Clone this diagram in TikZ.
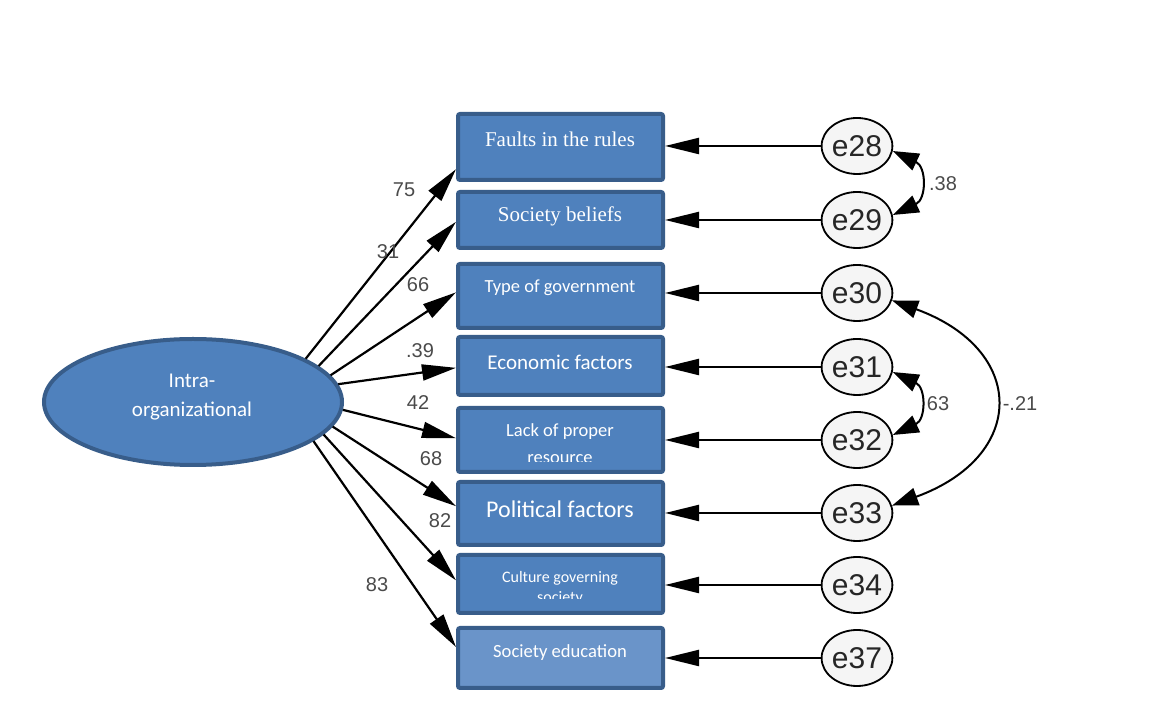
\documentclass[tikz,border=0pt]{standalone}
\usepackage{fontspec}
\setmainfont{Liberation Serif}
\newfontfamily\calibri{Carlito}
\newfontfamily\arialf{Liberation Sans}
\usetikzlibrary{arrows.meta,shapes.geometric}
\definecolor{boxfill}{HTML}{4F81BD}
\definecolor{boxline}{HTML}{385D8A}
\definecolor{boxlight}{HTML}{6A94C9}
\definecolor{lblcol}{HTML}{4A4A4A}
\begin{document}
\begin{tikzpicture}[x=1pt,y=1pt,
  box/.style={rectangle,draw=boxline,fill=boxfill,line width=4pt,rounded corners=2pt,
    minimum width=205pt,inner sep=0pt},
  lvar/.style={ellipse,draw=boxline,fill=boxfill,line width=4pt,minimum width=298pt,
    minimum height=126pt,inner sep=0pt},
  errv/.style={ellipse,draw=black,fill=black!4,line width=1.8pt,minimum width=63pt,
    minimum height=56pt,inner sep=0pt,text=black!85,font=\arialf\fontsize{30}{30}\selectfont},
  serif/.style={text=white,inner sep=0pt,font=\fontsize{21}{25}\selectfont},
  cal/.style={text=white,inner sep=0pt,font=\calibri\fontsize{#1}{#1}\selectfont},
  lbl/.style={text=lblcol,inner sep=0pt,font=\arialf\fontsize{20}{22}\selectfont},
  path/.style={draw=black,line width=2.2pt,-{Triangle[length=34pt,width=16pt]}},
  cov/.style={draw=black,line width=2pt,{Triangle[length=26pt,width=18pt]}-{Triangle[length=26pt,width=18pt]}}
]
\useasboundingbox (0,0) rectangle (1159,728);

% latent variable
\node[lvar] (E) at (193,326) {};
\node[cal=21,align=center] (Et) at (192,330.5) {Intra-\\[8pt]organizational};

% indicator boxes
\node[box,minimum height=66pt] (b1) at (560.5,581) {};
\node[box,minimum height=56pt] (b2) at (560.5,508) {};
\node[box,minimum height=64pt] (b3) at (560.5,432) {};
\node[box,minimum height=58pt] (b4) at (560.5,362) {};
\node[box,minimum height=64pt] (b5) at (560.5,288) {};
\node[box,minimum height=63pt] (b6) at (560.5,214.5) {};
\node[box,minimum height=58pt] (b7) at (560.5,144) {};
\node[box,minimum height=60pt,fill=boxlight] (b8) at (560.5,70) {};

% box texts
\node[serif] (t1) at (560,589) {Faults in the rules};
\node[serif] (t2) at (560,512) {Society beliefs};
\node[cal=18.5] (t3) at (560,440) {Type of government};
\node[cal=21] (t4) at (560,366) {Economic factors};
\node[cal=18.5] (t5a) at (560,296) {Lack of proper};
\begin{scope}
  \clip (456,266) rectangle (665,290);
  \node[cal=18.5,anchor=base] (t5b) at (560,264) {resource};
\end{scope}
\node[cal=24] (t6) at (560,219) {Political factors};
\node[cal=16] (t7a) at (560,150) {Culture governing};
\begin{scope}
  \clip (456,129) rectangle (665,140);
  \node[cal=16,anchor=base] (t7b) at (560,125.5) {society};
\end{scope}
\node[cal=18.6] (t8) at (560,75) {Society education};

% error terms
\node[errv] (e28) at (857,582) {e28};
\node[errv] (e29) at (857,508) {e29};
\node[errv] (e30) at (857,435) {e30};
\node[errv] (e31) at (857,361) {e31};
\node[errv] (e32) at (857,288) {e32};
\node[errv] (e33) at (857,215) {e33};
\node[errv] (e34) at (857,143) {e34};
\node[errv] (e37) at (857,70) {e37};

% loadings
\draw[path] (E.21) -- (b1.192);
\draw[path] (E.16.5) -- (b2.181);
\draw[path] (E.11.5) -- (b3.178);
\draw[path] (E.7) -- (b4.181);
\draw[path] (E.-3) -- (b5.179);
\draw[path] (E.-10) -- (b6.176);
\draw[path] (E.-14) -- (b7.178);
\draw[path] (E.-18) -- (b8.174);

% error paths
\foreach \e/\b in {e28/b1,e29/b2,e30/b3,e31/b4,e32/b5,e33/b6,e34/b7,e37/b8}{
  \draw[path] (\e.west) -- (\e.west -| \b.east);
}

% covariances
\draw[cov] (e28.-8) to[out=-25,in=25,looseness=1.5] (e29.8);
\draw[cov] (e31.-8) to[out=-25,in=25,looseness=1.5] (e32.8);
\draw[cov] (e30.-12) to[out=-20,in=20,looseness=1.8] (e33.12);

% labels
\node[lbl] (l1) at (404,538) {75};
\node[lbl] (l2) at (388,476) {31};
\node[lbl] (l3) at (418,443) {66};
\node[lbl] (l4) at (420,377) {.39};
\node[lbl] (l5) at (418,325) {42};
\node[lbl] (l6) at (431,269) {68};
\node[lbl] (l7) at (440,207) {82};
\node[lbl] (l8) at (377,143) {83};
\node[lbl] (c1) at (943,544) {.38};
\node[lbl] (c2) at (938,324) {63};
\node[lbl] (c3) at (1020,324) {-.21};
\end{tikzpicture}
\end{document}
